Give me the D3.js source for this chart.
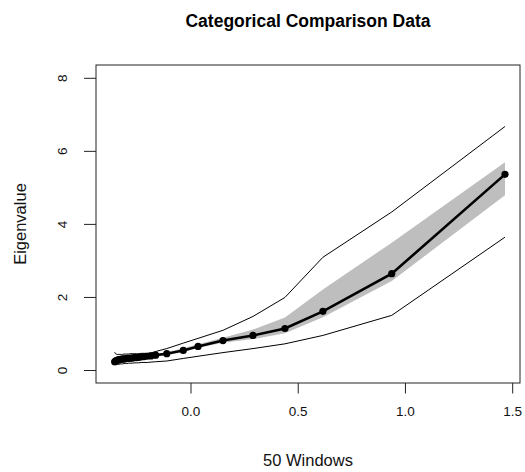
<!DOCTYPE html>
<html>
<head>
<meta charset="utf-8">
<script src="https://cdn.jsdelivr.net/npm/d3@7"></script>
<style>
  html, body { margin: 0; padding: 0; background: #fff; }
  svg { display: block; font-family: "Liberation Sans", Arial, sans-serif; }
</style>
</head>
<body>
<svg id="chart" width="525" height="472"></svg>
<script>
// Window positions (x) and the eigenvalue summaries for each window
const windowX = [-0.356, -0.352, -0.348, -0.344, -0.340, -0.335, -0.330, -0.325,
                 -0.319, -0.313, -0.306, -0.299, -0.291, -0.283, -0.274, -0.265,
                 -0.255, -0.244, -0.232, -0.219, -0.204, -0.187, -0.165, -0.113,
                 -0.036, 0.033, 0.149, 0.289, 0.438, 0.615, 0.936, 1.464];
const meanEigen = [0.24, 0.26, 0.27, 0.28, 0.29, 0.30, 0.30, 0.31,
                   0.31, 0.32, 0.32, 0.33, 0.33, 0.34, 0.34, 0.35,
                   0.35, 0.36, 0.37, 0.38, 0.39, 0.40, 0.42, 0.46,
                   0.55, 0.66, 0.82, 0.96, 1.15, 1.62, 2.65, 5.37];
const upperEigen = [0.50, 0.46, 0.45, 0.44, 0.44, 0.44, 0.44, 0.44,
                    0.44, 0.45, 0.45, 0.45, 0.45, 0.46, 0.46, 0.46,
                    0.46, 0.46, 0.47, 0.47, 0.47, 0.48, 0.52, 0.60,
                    0.75, 0.88, 1.10, 1.48, 2.00, 3.10, 4.34, 6.68];
const lowerEigen = [0.15, 0.16, 0.16, 0.17, 0.17, 0.17, 0.18, 0.18,
                    0.18, 0.19, 0.19, 0.19, 0.20, 0.20, 0.20, 0.21,
                    0.21, 0.21, 0.22, 0.22, 0.22, 0.23, 0.24, 0.26,
                    0.33, 0.39, 0.49, 0.60, 0.73, 0.96, 1.51, 3.65];

// Shaded interval around the mean curve
const bandX     = [-0.165, 0.033, 0.149, 0.289, 0.438, 0.615, 0.936, 1.464];
const bandUpper = [0.42, 0.72, 0.90, 1.12, 1.45, 2.22, 3.50, 5.70];
const bandLower = [0.42, 0.62, 0.76, 0.86, 1.02, 1.46, 2.45, 4.80];

const xTicks = [0.0, 0.5, 1.0, 1.5];
const yTicks = [0, 2, 4, 6, 8];

const svg = d3.select("#chart");
const box = { left: 96, top: 65, right: 520, bottom: 383 };

const x = d3.scaleLinear().domain([0, 1.5]).range([191, 512.7]);
const y = d3.scaleLinear().domain([0, 8]).range([370.5, 78.3]);

// Grey interval band
const band = bandX.map((v, i) => ({ x: v, hi: bandUpper[i], lo: bandLower[i] }));
svg.append("path")
  .datum(band)
  .attr("fill", "#bebebe")
  .attr("stroke", "none")
  .attr("d", d3.area().x(d => x(d.x)).y0(d => y(d.lo)).y1(d => y(d.hi)));

const pts = windowX.map((v, i) => ({ x: v, m: meanEigen[i], u: upperEigen[i], l: lowerEigen[i] }));

// Upper and lower envelopes
["u", "l"].forEach(k => {
  svg.append("path")
    .datum(pts)
    .attr("fill", "none")
    .attr("stroke", "#000")
    .attr("stroke-width", 1)
    .attr("d", d3.line().x(d => x(d.x)).y(d => y(d[k])));
});

// Mean curve with points
svg.append("path")
  .datum(pts)
  .attr("fill", "none")
  .attr("stroke", "#000")
  .attr("stroke-width", 2.6)
  .attr("d", d3.line().x(d => x(d.x)).y(d => y(d.m)));

svg.append("g")
  .selectAll("circle")
  .data(pts)
  .join("circle")
  .attr("cx", d => x(d.x))
  .attr("cy", d => y(d.m))
  .attr("r", 3.6)
  .attr("fill", "#000");

// Plot frame
svg.append("rect")
  .attr("x", box.left).attr("y", box.top)
  .attr("width", box.right - box.left).attr("height", box.bottom - box.top)
  .attr("fill", "none").attr("stroke", "#222").attr("stroke-width", 1);

// Bottom axis
const xa = svg.append("g");
xa.selectAll("line").data(xTicks).join("line")
  .attr("x1", d => x(d)).attr("x2", d => x(d))
  .attr("y1", box.bottom).attr("y2", box.bottom + 10.5)
  .attr("stroke", "#222");
xa.selectAll("text").data(xTicks).join("text")
  .attr("x", d => x(d)).attr("y", 416)
  .attr("text-anchor", "middle")
  .attr("font-size", 13.5)
  .attr("fill", "#111")
  .text(d => d3.format(".1f")(d));

// Left axis
const ya = svg.append("g");
ya.selectAll("line").data(yTicks).join("line")
  .attr("x1", box.left - 12).attr("x2", box.left)
  .attr("y1", d => y(d)).attr("y2", d => y(d))
  .attr("stroke", "#222");
ya.selectAll("text").data(yTicks).join("text")
  .attr("transform", d => `translate(${box.left - 29},${y(d)}) rotate(-90)`)
  .attr("text-anchor", "middle")
  .attr("font-size", 13.5)
  .attr("fill", "#111")
  .text(d => d);

// Titles
svg.append("text")
  .attr("x", (box.left + box.right) / 2).attr("y", 27)
  .attr("text-anchor", "middle")
  .attr("font-size", 17.5).attr("font-weight", "bold")
  .attr("fill", "#000")
  .text("Categorical Comparison Data");

svg.append("text")
  .attr("x", (box.left + box.right) / 2).attr("y", 466)
  .attr("text-anchor", "middle")
  .attr("font-size", 16.5)
  .attr("fill", "#111")
  .text("50 Windows");

svg.append("text")
  .attr("transform", `translate(26,${(box.top + box.bottom) / 2}) rotate(-90)`)
  .attr("text-anchor", "middle")
  .attr("font-size", 16.5)
  .attr("fill", "#111")
  .text("Eigenvalue");
</script>
</body>
</html>
